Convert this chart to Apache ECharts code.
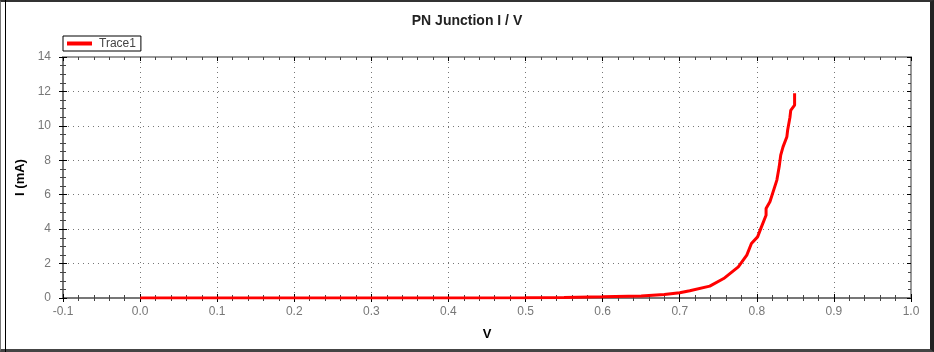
<!DOCTYPE html>
<html>
<head>
<meta charset="utf-8">
<script src="https://cdn.jsdelivr.net/npm/echarts@6/dist/echarts.min.js"></script>
<style>
html,body{margin:0;padding:0;background:#fff;}
#frame{position:absolute;left:0;top:0;width:934px;height:352px;box-sizing:border-box;
  border-top:2px solid #333;border-right:4px solid #222;border-bottom:3px solid #444;border-left:1px solid #777;}
#inner{position:absolute;left:5px;top:0;width:1px;height:352px;background:#000;}
#chart{position:absolute;left:0;top:0;width:934px;height:352px;}
</style>
</head>
<body>
<div id="chart"></div>
<div id="frame"></div>
<div id="inner"></div>
<script>
// Data
const seriesName = 'Trace1';
const voltage = [0.0, 0.1, 0.2, 0.3, 0.4, 0.5, 0.55, 0.6, 0.65, 0.68, 0.70, 0.713, 0.739, 0.757, 0.776, 0.787, 0.793, 0.801, 0.806, 0.812, 0.812, 0.817, 0.826, 0.829, 0.831, 0.834, 0.839, 0.840, 0.843, 0.844, 0.849, 0.849];
const current = [0.0, 0.0, 0.0, 0.0, 0.0, 0.01, 0.03, 0.07, 0.12, 0.2, 0.3, 0.42, 0.69, 1.13, 1.81, 2.49, 3.17, 3.55, 4.13, 4.81, 5.2, 5.59, 6.85, 7.62, 8.3, 8.78, 9.37, 9.76, 10.5, 10.9, 11.2, 11.9];
const xMin = -0.1, xMax = 1.0, xStep = 0.1;
const yMin = 0, yMax = 14, yStep = 2;
const titleText = 'PN Junction I / V';
const xName = 'V';
const yName = 'I (mA)';

const chart = echarts.init(document.getElementById('chart'), null, {renderer: 'canvas'});
const font = 'Arial, "Liberation Sans", sans-serif';
const grid = {left: 63, right: 23, top: 57, bottom: 54};

function xAx(pos, inside, main) {
  return {
    type: 'value', position: pos, min: xMin, max: xMax, interval: xStep,
    axisLine: {show: true, onZero: false, lineStyle: {color: pos === 'top' ? '#999' : '#777', width: 2}},
    axisTick: {show: true, inside: inside, length: 4, lineStyle: {color: '#000', width: 1}},
    minorTick: {show: true, splitNumber: 5, length: 3, lineStyle: {color: '#444', width: 1}},
    axisLabel: {show: main, margin: 8, color: '#777', fontSize: 12, fontFamily: font,
      formatter: v => v.toFixed(1)},
    splitLine: {show: main, lineStyle: {color: '#777', type: [1, 4], width: 1}},
    name: main ? xName : '', nameLocation: 'middle', nameGap: 30,
    nameTextStyle: {color: '#000', fontWeight: 'bold', fontSize: 13, fontFamily: font}
  };
}
function yAx(pos, inside, main) {
  return {
    type: 'value', position: pos, min: yMin, max: yMax, interval: yStep,
    axisLine: {show: true, onZero: false, lineStyle: {color: pos === 'right' ? '#999' : '#777', width: 2}},
    axisTick: {show: true, inside: inside, length: 4, lineStyle: {color: '#000', width: 1}},
    minorTick: {show: true, splitNumber: 4, length: 3, lineStyle: {color: '#444', width: 1}},
    axisLabel: {show: main, margin: 12, color: '#777', fontSize: 12, fontFamily: font},
    splitLine: {show: main, lineStyle: {color: '#777', type: [1, 4], width: 1}},
    name: main ? yName : '', nameLocation: 'middle', nameGap: 34, nameRotate: 90,
    nameTextStyle: {color: '#000', fontWeight: 'bold', fontSize: 13, fontFamily: font}
  };
}

chart.setOption({
  animation: false,
  backgroundColor: '#fff',
  title: {text: titleText, left: 'center', top: 9,
    textStyle: {fontSize: 14, fontWeight: 'bold', color: '#222', fontFamily: font}},
  legend: {
    left: 63, top: 36, orient: 'horizontal',
    borderColor: '#000', borderWidth: 1, padding: [1, 5, 1, 4],
    icon: 'rect', itemWidth: 25, itemHeight: 4, itemGap: 5,
    textStyle: {color: '#444', fontSize: 12, fontFamily: font, padding: [0, 0, 0, 2], lineHeight: 13},
    data: [seriesName]
  },
  grid: grid,
  xAxis: [xAx('bottom', false, true), xAx('bottom', true, false), xAx('top', true, false)],
  yAxis: [yAx('left', false, true), yAx('left', true, false), yAx('right', true, false)],
  series: [{
    name: seriesName, type: 'line', xAxisIndex: 0, yAxisIndex: 0,
    data: voltage.map((v, i) => [v, current[i]]),
    showSymbol: false, symbol: 'none',
    lineStyle: {color: '#ff0000', width: 3},
    itemStyle: {color: '#ff0000'}
  }]
});
</script>
</body>
</html>
